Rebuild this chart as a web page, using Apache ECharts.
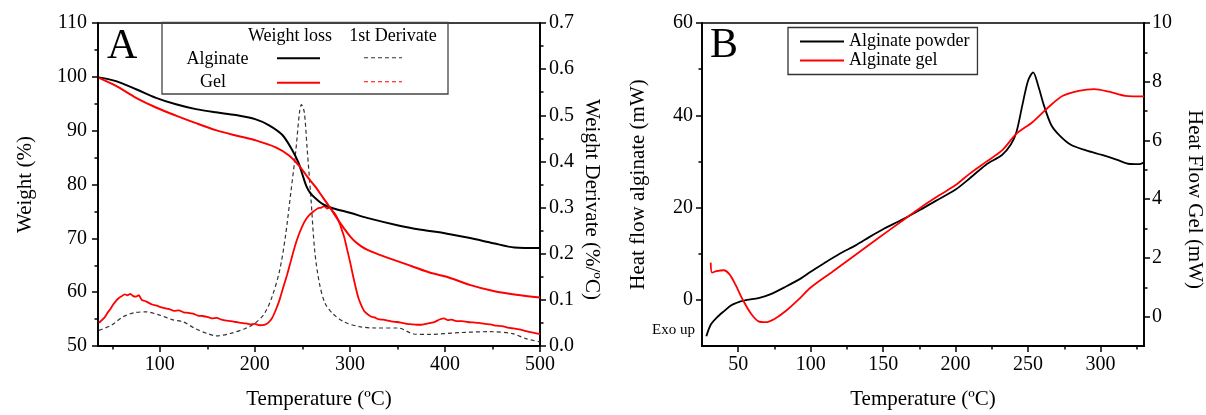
<!DOCTYPE html>
<html>
<head>
<meta charset="utf-8">
<script src="https://cdn.jsdelivr.net/npm/echarts@6/dist/echarts.min.js"></script>
<style>
html,body{margin:0;padding:0;background:#fff;}
#chart{width:1206px;height:415px;}
</style>
</head>
<body>
<div id="chart"></div>
<script>
// ---------- Panel A: TGA ----------
const aAlgWeightT = [36,54,75,96,117,138,159,180,201,215,229,239,246,250,254,258,264,272,282,301,318,351,375,401,425,451,473,500];
const aAlgWeight  = [99.9,99.2,97.7,96.1,94.9,94.0,93.4,92.9,92.1,91.0,89.2,86.5,84.0,81.9,79.8,78.5,77.4,76.3,75.6,74.7,73.8,72.4,71.6,70.9,70.1,69.1,68.3,68.2];

const aGelWeightT = [36,54,75,96,117,138,159,180,201,222,236,246,253,258,264,270,276,282,288,294,300,306,312,318,335,359,383,401,427,451,475,500];
const aGelWeight  = [99.8,98.3,96.1,94.3,92.8,91.4,90.1,89.1,88.2,86.9,85.4,83.6,82.0,80.8,79.5,78.0,76.5,74.9,73.3,71.8,70.4,69.3,68.5,67.9,66.7,65.2,63.7,62.9,61.3,60.2,59.5,59.0];

const aAlgDerivT = [36,49,61,73,85,100,113,125,137,150,160,174,190,200,210,218,226,232,238,243,247,249,252,255,259,263,268,274,282,294,310,327,351,367,383,415,447,471,485,500];
const aAlgDeriv  = [0.034,0.045,0.063,0.072,0.074,0.067,0.057,0.052,0.038,0.027,0.022,0.027,0.038,0.049,0.070,0.106,0.163,0.235,0.335,0.421,0.507,0.523,0.507,0.428,0.321,0.206,0.135,0.092,0.070,0.052,0.042,0.039,0.039,0.026,0.025,0.029,0.031,0.027,0.016,0.009];

const aGelDerivT = [36,39,42,45,48,51,54,57,60,63,66,69,72,75,78,81,84,88,92,96,100,105,110,115,120,125,130,135,140,145,150,155,160,165,170,175,180,185,190,195,200,205,210,214,218,222,226,230,234,238,242,246,250,254,258,262,266,270,273,276,279,282,285,288,291,294,297,300,303,306,309,312,315,318,322,326,330,335,340,345,350,355,360,365,370,375,380,385,390,395,399,403,407,412,418,424,430,436,442,448,454,460,466,472,478,484,490,495,500];
const aGelDeriv  = [0.050,0.056,0.062,0.072,0.080,0.090,0.098,0.104,0.108,0.112,0.110,0.113,0.108,0.107,0.110,0.100,0.098,0.094,0.090,0.088,0.085,0.082,0.080,0.076,0.077,0.073,0.072,0.070,0.066,0.065,0.063,0.060,0.061,0.057,0.055,0.054,0.052,0.050,0.049,0.047,0.048,0.045,0.046,0.050,0.060,0.078,0.100,0.128,0.155,0.185,0.215,0.240,0.260,0.275,0.285,0.292,0.298,0.300,0.303,0.298,0.300,0.292,0.284,0.272,0.255,0.236,0.210,0.184,0.155,0.128,0.104,0.088,0.076,0.070,0.064,0.062,0.058,0.057,0.055,0.053,0.052,0.050,0.048,0.047,0.046,0.046,0.048,0.050,0.053,0.058,0.060,0.056,0.057,0.054,0.054,0.052,0.051,0.050,0.048,0.047,0.044,0.043,0.040,0.038,0.036,0.033,0.030,0.028,0.026];

const aXLabels = [100,200,300,400,500];
const aXMinor  = [50,150,250,350,450];

// ---------- Panel B: DSC ----------
const bPowderT = [28,31,35,40,45.5,51,56,64,72,83,93,100,109,120,131,141,150.5,162.5,176,186,200,210,221,232,238,242,246,250,253.5,257,261,266,271.5,279.5,290,301,311,319,327,330];
const bPowder  = [-7.9,-5.4,-3.9,-2.5,-1.1,-0.4,0,0.4,1.2,2.9,4.6,6.1,7.9,10.0,11.8,13.7,15.4,17.3,19.6,21.4,23.9,26.4,29.3,31.4,33.6,36.4,42.1,47.5,49.3,46.4,42.1,37.9,35.7,33.6,32.4,31.4,30.4,29.5,29.4,29.8];

const bGelT = [31,32,35,40,44,48,53.5,59,64,69,75,83,93,100,115,131,146.5,162.5,176,189,200,210,221,232,242,253,264,274,285,295.5,306,317,330];
const bGel  = [1.84,1.50,1.55,1.58,1.44,1.10,0.54,0.09,-0.16,-0.19,-0.08,0.20,0.65,0.99,1.53,2.11,2.67,3.24,3.72,4.14,4.48,4.88,5.27,5.66,6.23,6.62,7.13,7.52,7.69,7.75,7.66,7.52,7.50];

const bXLabels = [50,100,150,200,250,300];
const bXMinor  = [75,125,175,225,275,325];
const bYLeftLabels = [0,20,40,60];
const bYLeftMinor  = [10,30,50];
const bYRightLabels = [0,2,4,6,8,10];
const bYRightMinor  = [1,3,5,7,9];

const zip = (xs, ys) => xs.map((x, i) => [x, ys[i]]);

const SERIF = "'Liberation Serif','Times New Roman',serif";
const AX = {color:'#000', width:1.8};
const tickStyle = {color:'#000', width:1.5};

function helperAxis(base, values, len) {
  return Object.assign({
    type:'value',
    axisLine:{show:false, onZero:false},
    axisLabel:{show:false},
    splitLine:{show:false},
    axisTick:{show:true, inside:false, length:len, customValues:values, lineStyle:tickStyle}
  }, base);
}

const chart = echarts.init(document.getElementById('chart'), null, {renderer:'canvas'});

const option = {
  backgroundColor:'#fff',
  animation:false,
  textStyle:{fontFamily:SERIF},
  grid:[
    {left:98, top:23, width:442, height:326, show:true, borderColor:'#000', borderWidth:1.5, backgroundColor:'transparent'},
    {left:702, top:23, width:444, height:326, show:true, borderColor:'#000', borderWidth:1.5, backgroundColor:'transparent'}
  ],
  legend:{
    data:[{name:'Alginate powder', icon:'rect'},{name:'Alginate gel', icon:'rect'}],
    orient:'vertical',
    left:788, top:27.5,
    padding:[5,8,5,12],
    itemWidth:44, itemHeight:2, itemGap:1,
    borderColor:'#333', borderWidth:1.3,
    textStyle:{fontFamily:SERIF, fontSize:18, color:'#000', lineHeight:18}
  },
  xAxis:[
    {gridIndex:0, type:'value', min:35, max:500, position:'bottom',
     name:'Temperature (ºC)', nameLocation:'middle', nameGap:43,
     nameTextStyle:{fontFamily:SERIF, fontSize:21, color:'#000'},
     axisLine:{onZero:false, lineStyle:AX},
     axisTick:{show:true, length:6, customValues:aXLabels, lineStyle:tickStyle},
     axisLabel:{customValues:aXLabels, fontFamily:SERIF, fontSize:20, color:'#000', margin:9},
     splitLine:{show:false}},
    helperAxis({gridIndex:0, min:35, max:500, position:'bottom'}, aXMinor, 3.5),
    {gridIndex:1, type:'value', min:25, max:330, position:'bottom',
     name:'Temperature (ºC)', nameLocation:'middle', nameGap:43,
     nameTextStyle:{fontFamily:SERIF, fontSize:21, color:'#000'},
     axisLine:{onZero:false, lineStyle:AX},
     axisTick:{show:true, length:6, customValues:bXLabels, lineStyle:tickStyle},
     axisLabel:{customValues:bXLabels, fontFamily:SERIF, fontSize:20, color:'#000', margin:9},
     splitLine:{show:false}},
    helperAxis({gridIndex:1, min:25, max:330, position:'bottom'}, bXMinor, 3.5)
  ],
  yAxis:[
    {gridIndex:0, type:'value', min:50, max:110, interval:10, position:'left',
     name:'Weight (%)', nameLocation:'middle', nameGap:62,
     nameTextStyle:{fontFamily:SERIF, fontSize:21, color:'#000'},
     axisLine:{show:true, onZero:false, lineStyle:AX},
     axisTick:{show:true, length:6, lineStyle:tickStyle},
     minorTick:{show:true, splitNumber:2, length:3.5, lineStyle:tickStyle},
     axisLabel:{fontFamily:SERIF, fontSize:20, color:'#000', margin:11},
     splitLine:{show:false}},
    {gridIndex:0, type:'value', min:0, max:0.7, interval:0.1, position:'right',
     name:'Weight Derivate (%/ºC)', nameLocation:'middle', nameGap:41, nameRotate:-90,
     nameTextStyle:{fontFamily:SERIF, fontSize:21, color:'#000', padding:[0,0,0,30]},
     axisLine:{show:true, onZero:false, lineStyle:AX},
     axisTick:{show:true, length:6, lineStyle:tickStyle},
     minorTick:{show:true, splitNumber:2, length:3.5, lineStyle:tickStyle},
     axisLabel:{fontFamily:SERIF, fontSize:20, color:'#000', margin:9, formatter:v=>v.toFixed(1)},
     splitLine:{show:false}},
    {gridIndex:1, type:'value', min:-10, max:60, position:'left',
     name:'Heat flow alginate (mW)', nameLocation:'middle', nameGap:53,
     nameTextStyle:{fontFamily:SERIF, fontSize:21, color:'#000'},
     axisLine:{show:true, onZero:false, lineStyle:AX},
     axisTick:{show:true, length:6, customValues:bYLeftLabels, lineStyle:tickStyle},
     axisLabel:{customValues:bYLeftLabels, fontFamily:SERIF, fontSize:20, color:'#000', margin:9},
     splitLine:{show:false}},
    helperAxis({gridIndex:1, min:-10, max:60, position:'left'}, bYLeftMinor, 3.5),
    {gridIndex:1, type:'value', min:-1, max:10, position:'right',
     name:'Heat Flow Gel (mW)', nameLocation:'middle', nameGap:40, nameRotate:-90,
     nameTextStyle:{fontFamily:SERIF, fontSize:21, color:'#000', padding:[0,0,0,30]},
     axisLine:{show:true, onZero:false, lineStyle:AX},
     axisTick:{show:true, length:6, customValues:bYRightLabels, lineStyle:tickStyle},
     axisLabel:{customValues:bYRightLabels, fontFamily:SERIF, fontSize:20, color:'#000', margin:8},
     splitLine:{show:false}},
    helperAxis({gridIndex:1, min:-1, max:10, position:'right'}, bYRightMinor, 3.5)
  ],
  series:[
    {name:'Alginate weight loss', type:'line', xAxisIndex:0, yAxisIndex:0, data:zip(aAlgWeightT, aAlgWeight),
     symbol:'none', smooth:0.3, lineStyle:{color:'#000', width:2}, z:3},
    {name:'Gel weight loss', type:'line', xAxisIndex:0, yAxisIndex:0, data:zip(aGelWeightT, aGelWeight),
     symbol:'none', smooth:0.3, lineStyle:{color:'#ff0000', width:2}, z:3},
    {name:'Alginate 1st derivate', type:'line', xAxisIndex:0, yAxisIndex:1, data:zip(aAlgDerivT, aAlgDeriv),
     symbol:'none', smooth:0.3, lineStyle:{color:'#333', width:1.2, type:[4,3]}, z:2},
    {name:'Gel 1st derivate', type:'line', xAxisIndex:0, yAxisIndex:1, data:zip(aGelDerivT, aGelDeriv),
     symbol:'none', smooth:0.2, lineStyle:{color:'#ff0000', width:1.8}, z:2},
    {name:'Alginate powder', type:'line', xAxisIndex:2, yAxisIndex:2, data:zip(bPowderT, bPowder),
     symbol:'none', smooth:0.3, lineStyle:{color:'#000', width:1.8}, itemStyle:{color:'#000'}, z:3},
    {name:'Alginate gel', type:'line', xAxisIndex:2, yAxisIndex:4, data:zip(bGelT, bGel),
     symbol:'none', smooth:0.3, lineStyle:{color:'#ff0000', width:1.8}, itemStyle:{color:'#ff0000'}, z:3}
  ],
  graphic:[
    {type:'text', x:107, y:47, style:{text:'A', font:'42px '+SERIF, fill:'#000', textAlign:'left', textVerticalAlign:'middle'}},
    {type:'text', x:710, y:46, style:{text:'B', font:'42px '+SERIF, fill:'#000', textAlign:'left', textVerticalAlign:'middle'}},
    {type:'text', x:652, y:330, style:{text:'Exo up', font:'15px '+SERIF, fill:'#000', textAlign:'left', textVerticalAlign:'middle'}},
    {type:'rect', shape:{x:162, y:22.5, width:286, height:71.5}, style:{fill:'transparent', stroke:'#444', lineWidth:1.3}},
    {type:'text', x:290, y:36, style:{text:'Weight loss', font:'18px '+SERIF, fill:'#000', textAlign:'center', textVerticalAlign:'middle'}},
    {type:'text', x:393, y:36, style:{text:'1st Derivate', font:'18px '+SERIF, fill:'#000', textAlign:'center', textVerticalAlign:'middle'}},
    {type:'text', x:217.5, y:59, style:{text:'Alginate', font:'18px '+SERIF, fill:'#000', textAlign:'center', textVerticalAlign:'middle'}},
    {type:'text', x:213, y:82.5, style:{text:'Gel', font:'18px '+SERIF, fill:'#000', textAlign:'center', textVerticalAlign:'middle'}},
    {type:'line', shape:{x1:277, y1:58.3, x2:320, y2:58.3}, style:{stroke:'#000', lineWidth:2}},
    {type:'line', shape:{x1:277, y1:82.7, x2:320, y2:82.7}, style:{stroke:'#ff0000', lineWidth:2}},
    {type:'line', shape:{x1:364, y1:57.7, x2:402, y2:57.7}, style:{stroke:'#333', lineWidth:1.1, lineDash:[4,3]}},
    {type:'line', shape:{x1:364, y1:81.7, x2:402, y2:81.7}, style:{stroke:'#ff0000', lineWidth:1.1, lineDash:[4,3]}}
  ]
};
chart.setOption(option);
</script>
</body>
</html>
